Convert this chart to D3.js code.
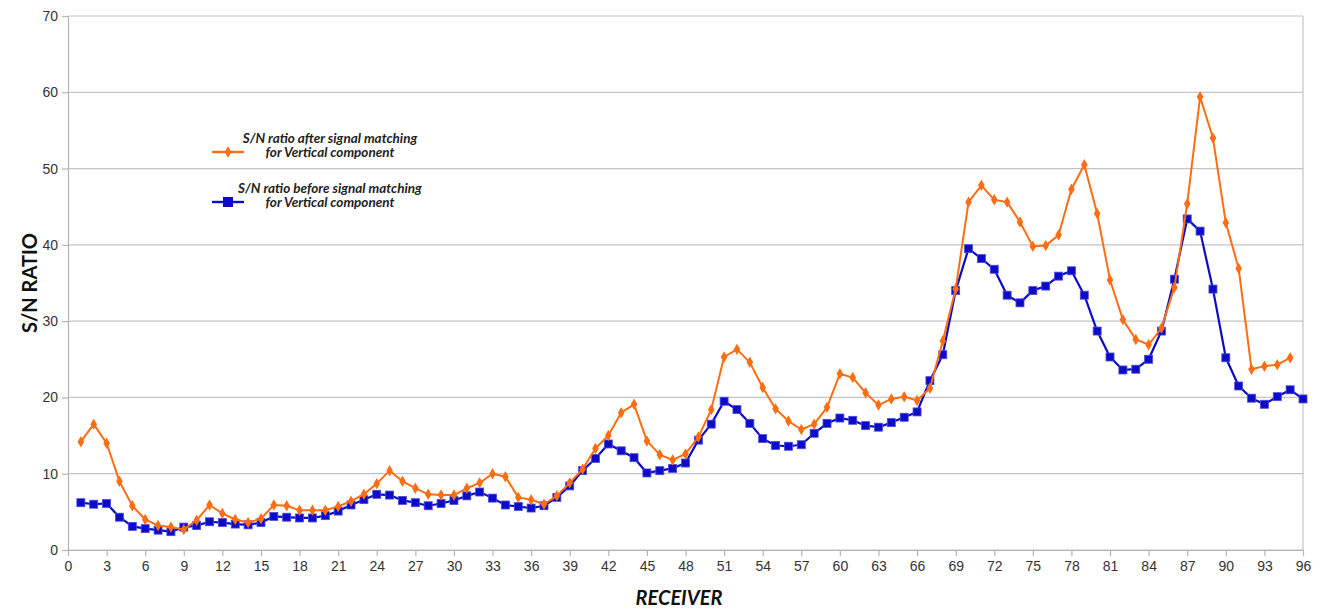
<!DOCTYPE html>
<html>
<head>
<meta charset="utf-8">
<script src="https://cdn.jsdelivr.net/npm/d3@7"></script>
<style>
  body { margin: 0; background: #fff; }
</style>
</head>
<body>
<div id="chart"></div>
<script>
// receivers 1..96 (after-matching series stops at 95)
const after = [14.2, 16.5, 14.0, 9.0, 5.8, 4.0, 3.2, 3.0, 2.7, 3.9,
  5.9, 4.8, 4.0, 3.6, 4.1, 5.9, 5.8, 5.2, 5.2, 5.2,
  5.7, 6.4, 7.3, 8.7, 10.4, 9.0, 8.1, 7.3, 7.2, 7.2,
  8.1, 8.8, 10.0, 9.6, 6.9, 6.6, 6.0, 7.1, 8.8, 10.6,
  13.3, 15.0, 18.0, 19.1, 14.3, 12.5, 11.8, 12.6, 14.8, 18.4,
  25.3, 26.3, 24.6, 21.3, 18.5, 16.9, 15.8, 16.5, 18.7, 23.1,
  22.6, 20.6, 19.0, 19.8, 20.1, 19.6, 21.2, 27.4, 34.2, 45.6,
  47.8, 45.9, 45.6, 43.0, 39.8, 39.9, 41.3, 47.3, 50.5, 44.1,
  35.4, 30.2, 27.6, 26.9, 29.1, 34.4, 45.4, 59.4, 54.0, 42.9,
  36.9, 23.7, 24.1, 24.3, 25.2]
const before = [6.2, 6.0, 6.1, 4.3, 3.1, 2.8, 2.6, 2.4, 3.0, 3.2,
  3.7, 3.6, 3.4, 3.3, 3.6, 4.4, 4.3, 4.2, 4.2, 4.5,
  5.1, 5.9, 6.6, 7.3, 7.2, 6.5, 6.2, 5.8, 6.1, 6.5,
  7.1, 7.6, 6.8, 5.9, 5.7, 5.5, 5.8, 6.9, 8.4, 10.4,
  12.0, 13.9, 13.0, 12.1, 10.1, 10.4, 10.7, 11.4, 14.4, 16.5,
  19.5, 18.4, 16.6, 14.6, 13.7, 13.6, 13.8, 15.3, 16.6, 17.3,
  17.0, 16.3, 16.1, 16.7, 17.4, 18.1, 22.2, 25.6, 34.0, 39.5,
  38.2, 36.8, 33.4, 32.4, 34.0, 34.6, 35.9, 36.6, 33.4, 28.7,
  25.3, 23.6, 23.7, 25.0, 28.7, 35.5, 43.4, 41.8, 34.2, 25.2,
  21.5, 19.9, 19.1, 20.1, 21.0, 19.8]
const xTicks = d3.range(0, 97, 3)
const yTicks = [0, 10, 20, 30, 40, 50, 60, 70]
const legendAfter = ["S/N ratio after signal matching", "for Vertical component"]
const legendBefore = ["S/N ratio before signal matching", "for Vertical component"]

const width = 1322
const height = 611
const margin = {top: 16, right: 19, bottom: 61, left: 68}
const orange = "#ff6d12"
const blue = "#0b0bc8"

const svg = d3.select("#chart")
  .append("svg")
  .attr("width", width)
  .attr("height", height)
  .style("font-family", "'Liberation Sans', Arial, sans-serif")

const x = d3.scaleLinear()
  .domain([0, 96])
  .range([margin.left, width - margin.right])

const y = d3.scaleLinear()
  .domain([0, 70])
  .range([height - margin.bottom, margin.top])

// gridlines
svg.append("g")
  .selectAll("line")
  .data(yTicks)
  .join("line")
  .attr("x1", x(0))
  .attr("x2", x(96))
  .attr("y1", d => y(d))
  .attr("y2", d => y(d))
  .attr("stroke", "#c4c4c4")
  .attr("stroke-width", 1.2)

// right frame
svg.append("line")
  .attr("x1", x(96)).attr("x2", x(96))
  .attr("y1", y(0)).attr("y2", y(70))
  .attr("stroke", "#c4c4c4")
  .attr("stroke-width", 1.2)

const xAxis = svg.append("g")
  .attr("transform", `translate(0,${y(0)})`)
  .call(d3.axisBottom(x).tickValues(xTicks).tickSize(6).tickSizeOuter(0).tickPadding(5))
const yAxis = svg.append("g")
  .attr("transform", `translate(${x(0)},0)`)
  .call(d3.axisLeft(y).tickValues(yTicks).tickSize(6).tickSizeOuter(0).tickPadding(4))

for (const ax of [xAxis, yAxis]) {
  ax.select(".domain").attr("stroke", "#b4b4b4").attr("stroke-width", 1.2)
  ax.selectAll(".tick line").attr("stroke", "#b4b4b4").attr("stroke-width", 1.2)
  ax.selectAll(".tick text")
    .attr("fill", "#333")
    .style("font-size", "14px")
    .style("font-family", "'Liberation Sans', Arial, sans-serif")
}

// axis titles
svg.append("text")
  .attr("transform", `translate(37,${(y(0) + y(70)) / 2}) rotate(-90)`)
  .attr("text-anchor", "middle")
  .style("font-family", "Lato, 'DejaVu Sans', sans-serif")
  .style("font-weight", "bold")
  .style("font-size", "20px")
  .attr("fill", "#111")
  .text("S/N RATIO")

svg.append("text")
  .attr("x", 679)
  .attr("y", 605)
  .attr("text-anchor", "middle")
  .style("font-family", "Lato, 'DejaVu Sans', sans-serif")
  .style("font-weight", "bold")
  .style("font-style", "italic")
  .style("font-size", "20px")
  .attr("fill", "#111")
  .text("RECEIVER")

const line = d3.line()
  .x((d, i) => x(i + 1))
  .y(d => y(d))

// before (blue) drawn first, orange on top
svg.append("path")
  .datum(before)
  .attr("fill", "none")
  .attr("stroke", blue)
  .attr("stroke-width", 2.2)
  .attr("stroke-linejoin", "round")
  .attr("d", line)

svg.append("g")
  .selectAll("rect")
  .data(before)
  .join("rect")
  .attr("x", (d, i) => x(i + 1) - 4)
  .attr("y", d => y(d) - 4)
  .attr("width", 8)
  .attr("height", 8)
  .attr("fill", blue)
  .attr("stroke", "#4a4ae0")
  .attr("stroke-width", 0.8)

svg.append("path")
  .datum(after)
  .attr("fill", "none")
  .attr("stroke", orange)
  .attr("stroke-width", 2)
  .attr("stroke-linejoin", "round")
  .attr("d", line)

const diamond = d3.symbol().type(d3.symbolDiamond).size(38)
svg.append("g")
  .selectAll("path")
  .data(after)
  .join("path")
  .attr("transform", (d, i) => `translate(${x(i + 1)},${y(d)})`)
  .attr("d", diamond)
  .attr("fill", orange)

// legend
function legendEntry(yLine, lines, color, marker) {
  const g = svg.append("g")
  g.append("line")
    .attr("x1", 212).attr("x2", 244)
    .attr("y1", yLine).attr("y2", yLine)
    .attr("stroke", color)
    .attr("stroke-width", 2.4)
  if (marker === "diamond") {
    g.append("path")
      .attr("transform", `translate(228,${yLine})`)
      .attr("d", diamond)
      .attr("fill", color)
  } else {
    g.append("rect")
      .attr("x", 223).attr("y", yLine - 5)
      .attr("width", 10).attr("height", 10)
      .attr("fill", color)
  }
  g.selectAll("text")
    .data(lines)
    .join("text")
    .attr("x", 330)
    .attr("y", (d, i) => yLine - 9 + i * 14)
    .attr("text-anchor", "middle")
    .style("font-family", "Lato, 'DejaVu Sans', sans-serif")
    .style("font-weight", "bold")
    .style("font-style", "italic")
    .style("font-size", "13.5px")
    .attr("fill", "#222")
    .text(d => d)
}
legendEntry(152, legendAfter, orange, "diamond")
legendEntry(202, legendBefore, blue, "square")
</script>
</body>
</html>
